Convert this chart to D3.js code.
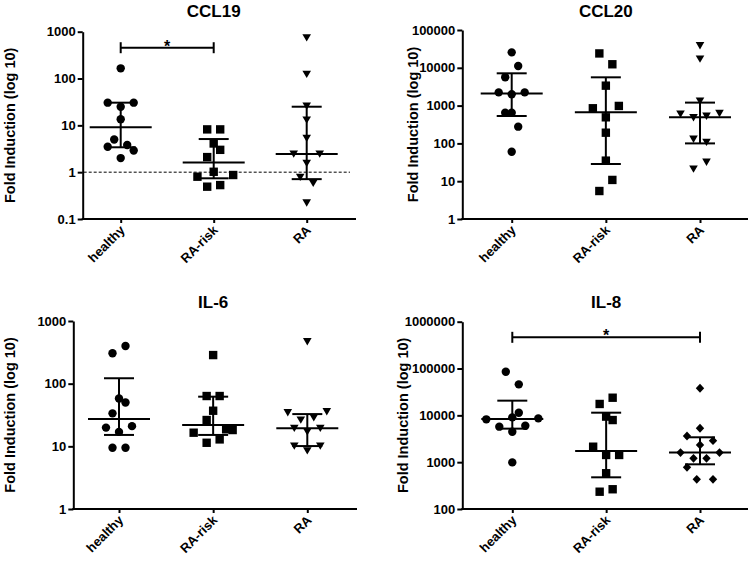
<!DOCTYPE html>
<html><head><meta charset="utf-8">
<script src="https://cdn.jsdelivr.net/npm/d3@7"></script>
<style>
html,body{margin:0;padding:0;background:#fff;}
svg{display:block;}
text{font-family:"Liberation Sans",Arial,Helvetica,sans-serif;font-weight:bold;fill:#000;}
</style></head>
<body>
<svg id="c" width="750" height="563"></svg>
<script>
// ---- data ----
const categories = ["healthy", "RA-risk", "RA"];

const ccl19Values = [
  [165, 30.5, 30.5, 25, 13.5, 5.0, 3.5, 3.8, 2.9, 2.0],
  [8.2, 8.2, 4.1, 3.0, 2.1, 1.02, 0.80, 0.87, 0.49, 0.53],
  [740, 123, 25.9, 13, 5.3, 2.44, 2.44, 1.55, 0.78, 0.58, 0.22]
];
const ccl19Slots = [
  [0, -2, 2, 0, 0, -1, -2, 1, 2, 0],
  [-1, 1, 0, 1, -1, 0, -2.5, 3, -1, 1],
  [0, 0, 0, 0, 0, -2, 2, 0, -1, 1, 0]
];
const ccl19Median = [9.1, 1.6, 2.44];
const ccl19Q1 = [3.4, 0.74, 0.71];
const ccl19Q3 = [30.5, 5.1, 25];

const ccl20Values = [
  [25600, 11200, 5600, 2240, 1990, 2240, 650, 650, 277, 60],
  [24000, 12400, 3370, 850, 980, 490, 192, 35, 10.8, 5.5],
  [38500, 17100, 1320, 600, 624, 480, 525, 130, 107, 32, 21]
];
const ccl20Slots = [
  [0, 1, -1, -2, 0, 2, -1, 0, 1, 0],
  [-1, 1, 0, -2, 2, 0, 0, 0, 1, -1],
  [0, 0, 0, -3, 3, -1, 1, -1, 1, 1, -1]
];
const ccl20Median = [2100, 663, 490];
const ccl20Q1 = [530, 28.5, 100];
const ccl20Q3 = [7150, 5600, 1200];

const il6Values = [
  [305, 399, 58, 50, 33.6, 19.9, 21, 17, 9.5, 9.5],
  [286, 63.5, 63.5, 37, 26.3, 16.5, 18.7, 18.2, 12.9, 11.4],
  [468, 34.4, 35.7, 26.3, 28.6, 19.4, 19.4, 17.1, 10.1, 10.1, 8.5]
];
const il6Slots = [
  [-1, 1, 0, 1, -1, -2, 2, 0, -1, 1],
  [0, -1, 1, 0, -1, -3, 2, 3, 1, -1],
  [0, -3, 3, -1, 1, -2, 2, 0, -2, 2, 0]
];
const il6Median = [27.3, 21.9, 19.4];
const il6Q1 = [15.2, 15.2, 10.1];
const il6Q3 = [122, 62, 32.7];

const il8Values = [
  [85500, 45900, 11400, 8220, 8630, 9060, 5730, 6010, 4480, 990],
  [23800, 17500, 9400, 7940, 2140, 1425, 1425, 580, 234, 264],
  [37900, 5300, 3620, 2880, 2330, 1600, 1600, 1210, 1210, 778, 431, 431]
];
const il8Slots = [
  [-1, 1, 1, -4, 4, 0, -2, 2, 0, 0],
  [1, -1, 0, 1, -2, 0, 2, 0, -1, 1],
  [0, 0, -2, 2, 0, -3, 3, -1, 1, -2, -0.5, 2]
];
const il8Median = [8360, 1730, 1600];
const il8Q1 = [5200, 475, 900];
const il8Q3 = [20600, 11400, 3400];

const ccl19Ticks = [0.1, 1, 10, 100, 1000];
const ccl20Ticks = [1, 10, 100, 1000, 10000, 100000];
const il6Ticks = [1, 10, 100, 1000];
const il8Ticks = [100, 1000, 10000, 100000, 1000000];

// significance brackets: [fromCategory, toCategory, value level, label]
const ccl19Sig = [["healthy", "RA-risk", 455, "*"]];
const il8Sig = [["healthy", "RA", 464000, "*"]];

// ---- layout ----
const panels = [
  {title: "CCL19", yTitle: "Fold Induction (log 10)", values: ccl19Values, slots: ccl19Slots,
   med: ccl19Median, q1: ccl19Q1, q3: ccl19Q3, ticks: ccl19Ticks, sig: ccl19Sig,
   shapes: ["circle", "square", "triangle"], refLine: 1,
   ax: 82.7, top: 31.7, bot: 219, c0: 120.7, c2: 306.7, xEnd: 356, refEnd: 350, ytx: 14.5, tY: 17},
  {title: "CCL20", yTitle: "Fold Induction  (log 10)", values: ccl20Values, slots: ccl20Slots,
   med: ccl20Median, q1: ccl20Q1, q3: ccl20Q3, ticks: ccl20Ticks, sig: [],
   shapes: ["circle", "square", "triangle"],
   ax: 462.3, top: 30, bot: 219, c0: 511.7, c2: 700, xEnd: 748, ytx: 417.5, tY: 17},
  {title: "IL-6", yTitle: "Fold Induction  (log 10)", values: il6Values, slots: il6Slots,
   med: il6Median, q1: il6Q1, q3: il6Q3, ticks: il6Ticks, sig: [],
   shapes: ["circle", "square", "triangle"],
   ax: 73.3, top: 321, bot: 509, c0: 119, c2: 307.3, xEnd: 357, ytx: 14.5, tY: 308},
  {title: "IL-8", yTitle: "Fold Induction  (log 10)", values: il8Values, slots: il8Slots,
   med: il8Median, q1: il8Q1, q3: il8Q3, ticks: il8Ticks, sig: il8Sig,
   shapes: ["circle", "square", "diamond"],
   ax: 462.3, top: 321.7, bot: 509, c0: 512.3, c2: 700, xEnd: 748, ytx: 407.5, tY: 308}
];

const SLOT = 6.5, MED_HW = 31, CAP_HW = 15;
const svg = d3.select("#c");

function markerPath(shape) {
  if (shape === "square") return "M-4.2,-4.2H4.2V4.2H-4.2Z";
  if (shape === "triangle") return "M-4.3,-3.6L4.3,-3.6L0,3.8Z";
  if (shape === "diamond") return "M0,-4.4L4.2,0L0,4.4L-4.2,0Z";
  return null;
}
const fmt = d => d >= 1 ? d3.format("d")(d) : String(d);

panels.forEach(p => {
  const g = svg.append("g");
  const y = d3.scaleLog().domain([p.ticks[0], p.ticks[p.ticks.length - 1]]).range([p.bot, p.top]);
  const x = d3.scalePoint().domain(categories).range([p.c0, p.c2]);

  // y axis
  const ya = g.append("g").attr("transform", `translate(${p.ax},0)`)
    .call(d3.axisLeft(y).tickValues(p.ticks).tickFormat(fmt).tickSize(5).tickSizeOuter(0).tickPadding(2));
  ya.selectAll("path,line").attr("stroke", "#000").attr("stroke-width", 2);
  ya.selectAll("text").style("font-size", "13px").style("font-weight", "bold").attr("fill", "#000")
    .style("font-family", '"Liberation Sans",Arial,sans-serif');

  // x axis
  const xa = g.append("g").attr("transform", `translate(0,${p.bot})`)
    .call(d3.axisBottom(x).tickSize(4).tickSizeOuter(0).tickFormat(""));
  xa.select(".domain").remove();
  xa.selectAll("line").attr("stroke", "#000").attr("stroke-width", 2);
  g.append("line").attr("x1", p.ax - 1).attr("x2", p.xEnd).attr("y1", p.bot).attr("y2", p.bot)
    .attr("stroke", "#000").attr("stroke-width", 2);

  // x labels rotated
  categories.forEach(c => {
    g.append("text").attr("text-anchor", "end")
      .attr("transform", `translate(${x(c) + 5},${p.bot + 12}) rotate(-45)`)
      .style("font-size", "13px").text(c);
  });

  // title
  g.append("text").attr("x", x(categories[1])).attr("y", p.tY).attr("text-anchor", "middle")
    .style("font-size", "17px").text(p.title);
  // y title
  g.append("text").attr("text-anchor", "middle")
    .attr("transform", `translate(${p.ytx},${(p.top + p.bot) / 2}) rotate(-90)`)
    .style("font-size", "14.5px").text(p.yTitle);

  // reference line
  if (p.refLine !== undefined) {
    g.append("line").attr("x1", p.ax + 1).attr("x2", p.refEnd)
      .attr("y1", y(p.refLine)).attr("y2", y(p.refLine))
      .attr("stroke", "#000").attr("stroke-width", 1).attr("stroke-dasharray", "3,2");
  }

  // points
  categories.forEach((c, i) => {
    const pts = p.values[i].map((v, j) => ({v, s: p.slots[i][j]}));
    const shape = p.shapes[i];
    const sel = g.append("g").selectAll(".pt").data(pts).enter();
    if (shape === "circle") {
      sel.append("circle").attr("cx", d => x(c) + d.s * SLOT).attr("cy", d => y(d.v)).attr("r", 4.2).attr("fill", "#000");
    } else {
      sel.append("path").attr("d", markerPath(shape))
        .attr("transform", d => `translate(${x(c) + d.s * SLOT},${y(d.v)})`).attr("fill", "#000");
    }
    // median & IQR
    const cx = x(c);
    const lg = g.append("g").attr("stroke", "#000").attr("stroke-width", 2);
    lg.append("line").attr("x1", cx).attr("x2", cx).attr("y1", y(p.q1[i])).attr("y2", y(p.q3[i]));
    lg.append("line").attr("x1", cx - MED_HW).attr("x2", cx + MED_HW).attr("y1", y(p.med[i])).attr("y2", y(p.med[i]));
    [p.q1[i], p.q3[i]].forEach(q => {
      lg.append("line").attr("x1", cx - CAP_HW).attr("x2", cx + CAP_HW).attr("y1", y(q)).attr("y2", y(q));
    });
  });

  // significance
  p.sig.forEach(s => {
    const x1 = x(s[0]), x2 = x(s[1]), yy = y(s[2]);
    const sg = g.append("g").attr("stroke", "#000").attr("stroke-width", 2);
    sg.append("line").attr("x1", x1).attr("x2", x2).attr("y1", yy).attr("y2", yy);
    [x1, x2].forEach(xx => sg.append("line").attr("x1", xx).attr("x2", xx).attr("y1", yy - 5.5).attr("y2", yy + 5.5));
    g.append("text").attr("x", (x1 + x2) / 2).attr("y", yy + 4).attr("text-anchor", "middle")
      .style("font-size", "16px").text(s[3]);
  });
});
</script>
</body></html>
